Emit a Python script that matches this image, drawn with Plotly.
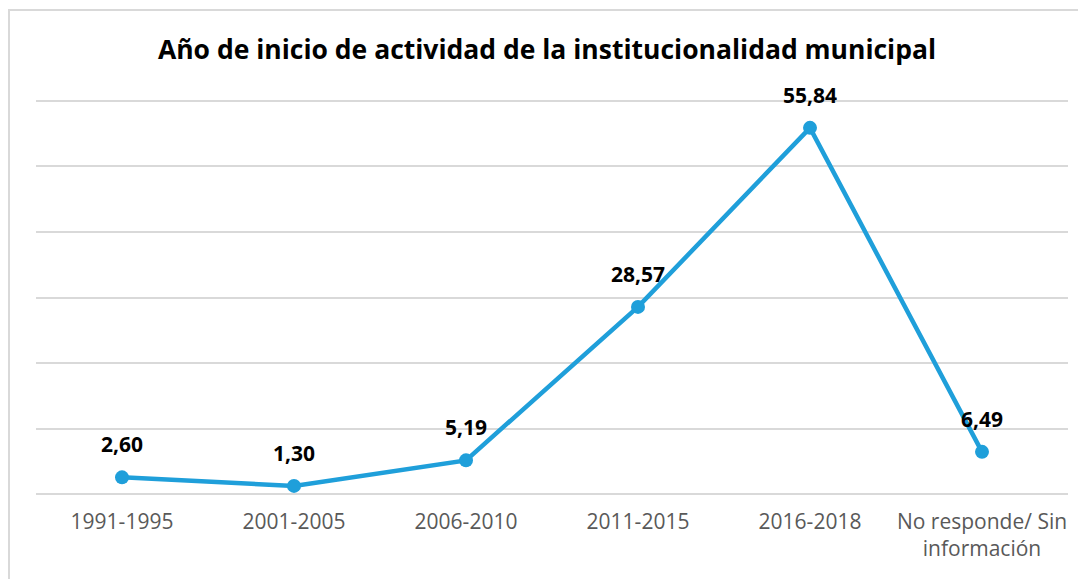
import plotly.graph_objects as go

categories = ["1991-1995", "2001-2005", "2006-2010", "2011-2015", "2016-2018", "No responde/ Sin<br>información"]
values = [2.60, 1.30, 5.19, 28.57, 55.84, 6.49]
labels = ["2,60", "1,30", "5,19", "28,57", "55,84", "6,49"]
y_ticks = [0, 10, 20, 30, 40, 50, 60]

# page body has an 8px margin; figure is placed at (8, 8)
OFF = 8
W, H = 1086 - OFF, 579 - OFF
PAD = 1.0            # y-range padding so gridlines at 0 and 60 are drawn
PXU = (494 - 101) / 60.0
L, R = 36 - OFF, 18
T = round(101 - PAD * PXU - OFF)
B = round(579 - 494 - PAD * PXU)
pw, ph = W - L - R, H - T - B

color = "#1f9fda"

fig = go.Figure()
fig.add_trace(go.Scatter(
    x=categories, y=values, mode="lines+markers",
    line=dict(color=color, width=4.5),
    marker=dict(color=color, size=14),
    hoverinfo="skip", showlegend=False,
))

for c, v, t in zip(categories, values, labels):
    fig.add_annotation(x=c, y=v, text=f"<b>{t}</b>", showarrow=False,
                       yshift=33, font=dict(family="Open Sans", size=21, color="#000000"))

def px_x(x):
    return (x - OFF - L) / pw
def px_y(y):
    return (H - B - (y - OFF)) / ph

fig.add_shape(type="line", xref="paper", yref="paper",
              x0=px_x(9), x1=px_x(9), y0=px_y(10), y1=px_y(600),
              line=dict(color="#d9d9d9", width=2))
fig.add_shape(type="line", xref="paper", yref="paper",
              x0=px_x(8), x1=px_x(1100), y0=px_y(10), y1=px_y(10),
              line=dict(color="#d9d9d9", width=2))

fig.update_layout(
    width=W, height=H,
    margin=dict(l=L, r=R, t=T, b=B),
    paper_bgcolor="white", plot_bgcolor="white",
    title=dict(text="<b>Año de inicio de actividad de la institucionalidad municipal</b>",
               x=0.5, xanchor="center", y=1 - (50 - OFF) / H, yanchor="middle",
               font=dict(family="Open Sans", size=26.5, color="#000000")),
    xaxis=dict(type="category", showgrid=False, zeroline=False, showline=False,
               tickfont=dict(family="Open Sans", size=21, color="#595959"),
               ticks="", range=[-0.5, 5.5], ticklabelstandoff=6),
    yaxis=dict(range=[-PAD, 60 + PAD], tickvals=y_ticks, showticklabels=False,
               showgrid=True, gridcolor="#d9d9d9", gridwidth=1.5,
               zeroline=False, showline=False),
)

fig.write_html("out.html")
